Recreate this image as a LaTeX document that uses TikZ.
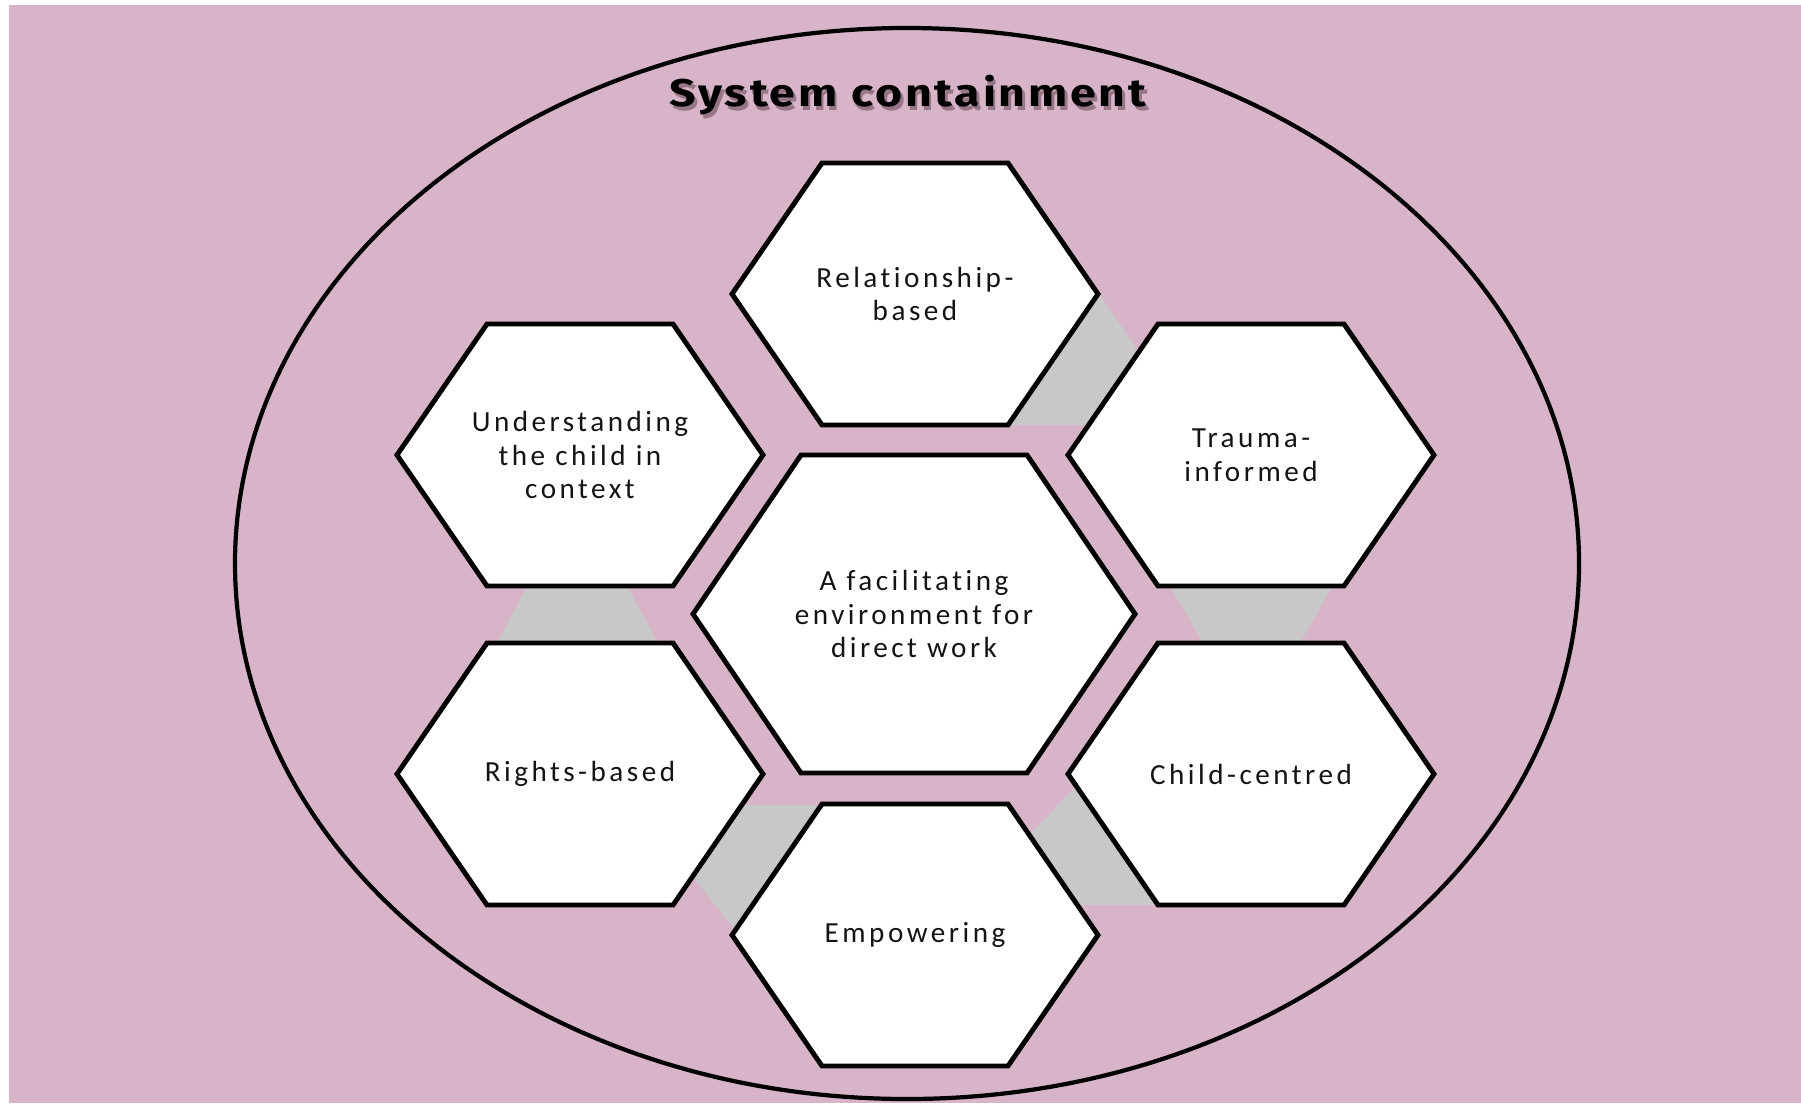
\documentclass[tikz,border=0pt]{standalone}
\usepackage{fontspec}
\usepackage{graphicx}
\newfontfamily\hexfont{Carlito}[LetterSpace=12, Ligatures=NoCommon]
\newfontfamily\titlefont{Fira Sans}[LetterSpace=6]
\definecolor{bgpink}{RGB}{216,180,200}
\definecolor{linkgrey}{RGB}{200,200,200}
\definecolor{txt}{RGB}{20,20,20}
\definecolor{shadowc}{RGB}{150,118,135}
\newcommand\drawhex[5]{%
  \draw[hexline] (#1-#3,#2) -- (#1-#4,#2-#5) -- (#1+#4,#2-#5) -- (#1+#3,#2)
    -- (#1+#4,#2+#5) -- (#1-#4,#2+#5) -- cycle;}
\newcommand\titlestr{\scalebox{1.2}[1]{System containment}}
\newcommand\titlewithshadow{\makebox[0pt][l]{\hspace{1.5pt}\raisebox{-2.6pt}{\textcolor{shadowc}{\titlestr}}}\titlestr}
\tikzset{
  hexline/.style={draw=black, fill=white, line width=2.8pt, line join=miter},
  hextext/.style={align=center, font=\hexfont\fontsize{16.6}{19.3}\selectfont, text=txt, inner sep=0pt},
  link/.style={fill=linkgrey, draw=none},
  titletext/.style={font=\titlefont\bfseries\fontsize{22}{26}\selectfont, inner sep=0pt}
}
\begin{document}
\begin{tikzpicture}[x=0.02cm, y=-0.02cm]
\useasboundingbox (0,0) rectangle (1801,1103);
\fill[white] (0,0) rectangle (1801,1103);
\fill[bgpink] (9,5) rectangle (1801,1103);
% outer ellipse
\draw[line width=2.4pt] (907,563.5) ellipse [x radius=672, y radius=535.5];
% title with shadow
\node[titletext, text=black] (title) at (908,97) {\titlewithshadow};
% grey links
\fill[link] (1099,294) -- (1139,352) -- (1089,425) -- (1011,425) -- cycle;
\fill[link] (1170,586) -- (1332,586) -- (1300,643) -- (1203,643) -- cycle;
\fill[link] (527,586) -- (627,586) -- (658,643) -- (497,643) -- cycle;
\fill[link] (742,805) -- (823,805) -- (735,930) -- (693,877) -- cycle;
\fill[link] (1076,786) -- (1031,833) -- (1077,905) -- (1158,905) -- cycle;
% hexagons
\drawhex{915}{294}{183}{93}{131}
\drawhex{580}{455}{183}{93}{131}
\drawhex{1251}{455}{183}{93}{131}
\drawhex{914}{614}{221}{113}{159}
\drawhex{580}{774}{183}{93}{131}
\drawhex{1251}{774}{183}{93}{131}
\drawhex{915}{935}{183}{93}{131}
% texts
\node[hextext] (rel) at (915,294) {Relationship-\\based};
\node[hextext] (und) at (580,455) {Understanding\\the child in\\context};
\node[hextext] (tra) at (1251,455) {Trauma-\\informed};
\node[hextext] (cen) at (914,614) {A facilitating\\environment for\\direct work};
\node[hextext] (rig) at (580,774) {Rights-based};
\node[hextext] (chi) at (1251,774) {Child-centred};
\node[hextext] (emp) at (915,935) {Empowering};
\end{tikzpicture}
\end{document}
